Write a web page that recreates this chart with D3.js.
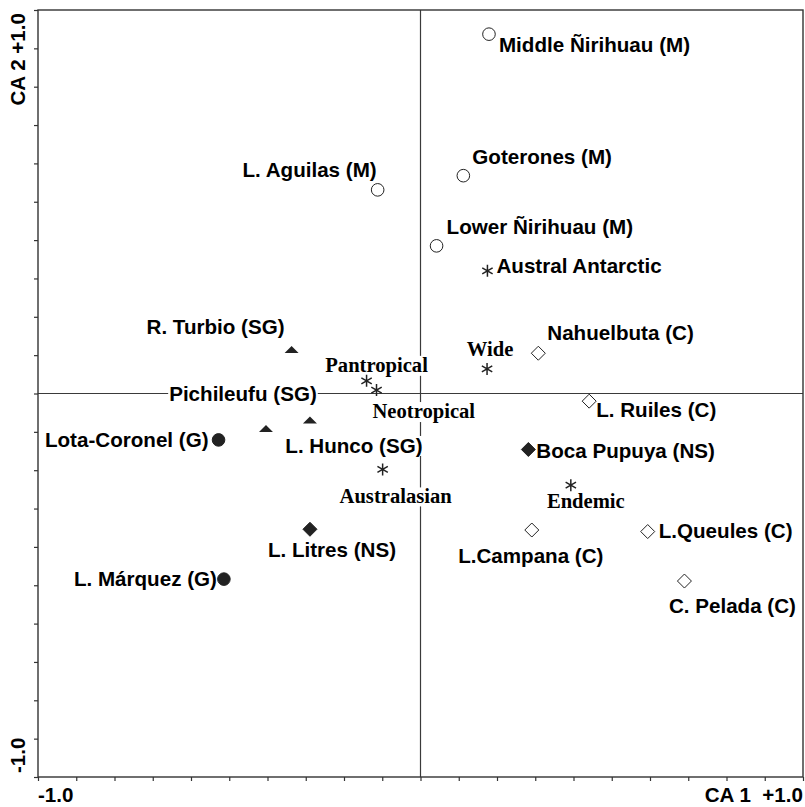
<!DOCTYPE html>
<html>
<head>
<meta charset="utf-8">
<script src="https://cdn.jsdelivr.net/npm/d3@7"></script>
<style>
  body { margin: 0; background: #fff; }
  svg { display: block; }
</style>
</head>
<body>
<svg id="chart" width="805" height="807"></svg>
<script>
// CA scores of the fossil sites (axis 1, axis 2)
const siteNames = ["Middle Ñirihuau (M)", "Goterones (M)", "L. Aguilas (M)", "Lower Ñirihuau (M)",
  "Nahuelbuta (C)", "R. Turbio (SG)", "Pichileufu (SG)", "L. Hunco (SG)", "Lota-Coronel (G)",
  "L. Ruiles (C)", "Boca Pupuya (NS)", "L. Litres (NS)", "L.Campana (C)", "L.Queules (C)",
  "C. Pelada (C)", "L. Márquez (G)"];
const siteX = [0.179, 0.112, -0.112, 0.042, 0.308, -0.337, -0.404, -0.289, -0.528,
  0.441, 0.282, -0.289, 0.291, 0.594, 0.690, -0.514];
const siteY = [0.937, 0.568, 0.531, 0.385, 0.105, 0.115, -0.091, -0.069, -0.121,
  -0.020, -0.146, -0.354, -0.356, -0.360, -0.489, -0.484];
const siteGroup = ["M", "M", "M", "M", "C", "SG", "SG", "SG", "G", "C", "NS", "NS", "C", "C", "C", "G"];

// CA scores of the phytogeographic elements
const elementNames = ["Austral Antarctic", "Wide", "Pantropical", "Neotropical", "Australasian", "Endemic"];
const elementX = [0.175, 0.174, -0.141, -0.115, -0.099, 0.393];
const elementY = [0.320, 0.064, 0.033, 0.009, -0.198, -0.239];

// axis ticks every 0.1
const axisTicks = d3.range(-10, 11).map(d => d / 10);

// label placement: [dx, dy, anchor, serif]
const labelPos = {
  "Middle Ñirihuau (M)": [10, 18, "start"],
  "Goterones (M)": [9, -12, "start"],
  "L. Aguilas (M)": [-1, -13, "end"],
  "Lower Ñirihuau (M)": [10, -12, "start"],
  "Nahuelbuta (C)": [9, -13, "start"],
  "R. Turbio (SG)": [-7, -15, "end"],
  "Pichileufu (SG)": [-23, -27, "middle"],
  "L. Hunco (SG)": [44, 33, "middle"],
  "Lota-Coronel (G)": [-10, 7, "end"],
  "L. Ruiles (C)": [7, 16, "start"],
  "Boca Pupuya (NS)": [8, 9, "start"],
  "L. Litres (NS)": [22, 28, "middle"],
  "L.Campana (C)": [-1, 33, "middle"],
  "L.Queules (C)": [11, 6, "start"],
  "C. Pelada (C)": [48, 32, "middle"],
  "L. Márquez (G)": [-7, 7, "end"],
  "Austral Antarctic": [9, 2, "start"],
  "Wide": [3, -13, "middle", true],
  "Pantropical": [10, -9, "middle", true],
  "Neotropical": [-4, 28, "start", true],
  "Australasian": [13, 34, "middle", true],
  "Endemic": [15, 23, "middle", true]
};

const sites = siteNames.map((n, i) => ({name: n, x: siteX[i], y: siteY[i], group: siteGroup[i]}));
const elements = elementNames.map((n, i) => ({name: n, x: elementX[i], y: elementY[i]}));

const svg = d3.select("#chart");
const x = d3.scaleLinear().domain([-1, 1]).range([38, 803]);
const y = d3.scaleLinear().domain([-1, 1]).range([777, 10]);
const lineCol = "#333";
const sansFont = "'Liberation Sans', Arial, Helvetica, sans-serif";
const serifFont = "'Liberation Serif', 'Times New Roman', serif";
const fontSize = 20.6;

// zero lines
svg.append("line")
  .attr("x1", x(0)).attr("x2", x(0)).attr("y1", y(1)).attr("y2", y(-1))
  .attr("stroke", "#3a3a3a").attr("stroke-width", 1.2);
svg.append("line")
  .attr("x1", x(-1)).attr("x2", x(1)).attr("y1", y(0)).attr("y2", y(0))
  .attr("stroke", "#3a3a3a").attr("stroke-width", 1.2);

// frame
svg.append("rect")
  .attr("x", x(-1)).attr("y", y(1))
  .attr("width", x(1) - x(-1)).attr("height", y(-1) - y(1))
  .attr("fill", "none").attr("stroke", lineCol).attr("stroke-width", 1.4);

// ticks
const gl = svg.append("g").attr("transform", `translate(${x(-1)},0)`)
  .call(d3.axisLeft(y).tickValues(axisTicks).tickSize(4).tickFormat(""));
const gb = svg.append("g").attr("transform", `translate(0,${y(-1)})`)
  .call(d3.axisBottom(x).tickValues(axisTicks).tickSize(4).tickFormat(""));
[gl, gb].forEach(g => {
  g.select(".domain").remove();
  g.selectAll(".tick line").attr("stroke", lineCol).attr("stroke-width", 1.2);
});

// axis titles
function axisText(sel) {
  return sel.attr("font-family", sansFont).attr("font-weight", "bold").attr("font-size", fontSize);
}
axisText(svg.append("text"))
  .attr("transform", "translate(25,13) rotate(-90)")
  .attr("text-anchor", "end")
  .text("CA 2 +1.0");
axisText(svg.append("text"))
  .attr("transform", "translate(25,773) rotate(-90)")
  .attr("text-anchor", "start")
  .text("-1.0");
axisText(svg.append("text"))
  .attr("x", 38).attr("y", 802)
  .text("-1.0");
axisText(svg.append("text"))
  .attr("x", 803).attr("y", 802).attr("text-anchor", "end")
  .attr("xml:space", "preserve")
  .text("CA 1  +1.0");

// labels with white boxes behind them
function addLabel(d) {
  const p = labelPos[d.name];
  const g = svg.append("g");
  const t = g.append("text")
    .attr("x", x(d.x) + p[0]).attr("y", y(d.y) + p[1])
    .attr("text-anchor", p[2])
    .attr("font-family", p[3] ? serifFont : sansFont)
    .attr("font-weight", "bold").attr("font-size", fontSize)
    .attr("fill", "#000")
    .text(d.name);
  const b = t.node().getBBox();
  g.insert("rect", "text")
    .attr("x", b.x - 1).attr("y", b.y + 2)
    .attr("width", b.width + 2).attr("height", b.height - 3)
    .attr("fill", "#fff");
}
sites.forEach(addLabel);
elements.forEach(addLabel);

// site markers
const markerCol = "#222";
sites.forEach(d => {
  const cx = x(d.x), cy = y(d.y);
  if (d.group === "M" || d.group === "G") {
    svg.append("circle").attr("cx", cx).attr("cy", cy).attr("r", 6.3)
      .attr("fill", d.group === "G" ? markerCol : "#fff")
      .attr("stroke", markerCol).attr("stroke-width", 1);
  } else if (d.group === "C" || d.group === "NS") {
    svg.append("path")
      .attr("d", `M${cx},${cy - 7}L${cx + 7},${cy}L${cx},${cy + 7}L${cx - 7},${cy}Z`)
      .attr("fill", d.group === "NS" ? markerCol : "#fff")
      .attr("stroke", markerCol).attr("stroke-width", 1);
  } else {
    svg.append("path")
      .attr("d", `M${cx - 7},${cy + 3.5}L${cx + 7},${cy + 3.5}L${cx},${cy - 3.5}Z`)
      .attr("fill", markerCol);
  }
});

// element markers (asterisks)
elements.forEach(d => {
  const cx = x(d.x), cy = y(d.y), r = 6;
  const a = Math.PI / 6;
  const path = `M${cx},${cy - r}L${cx},${cy + r}` +
    `M${cx - r * Math.cos(a)},${cy - r * Math.sin(a)}L${cx + r * Math.cos(a)},${cy + r * Math.sin(a)}` +
    `M${cx - r * Math.cos(a)},${cy + r * Math.sin(a)}L${cx + r * Math.cos(a)},${cy - r * Math.sin(a)}`;
  svg.append("path").attr("d", path).attr("stroke", markerCol).attr("stroke-width", 1.5).attr("fill", "none");
});
</script>
</body>
</html>
